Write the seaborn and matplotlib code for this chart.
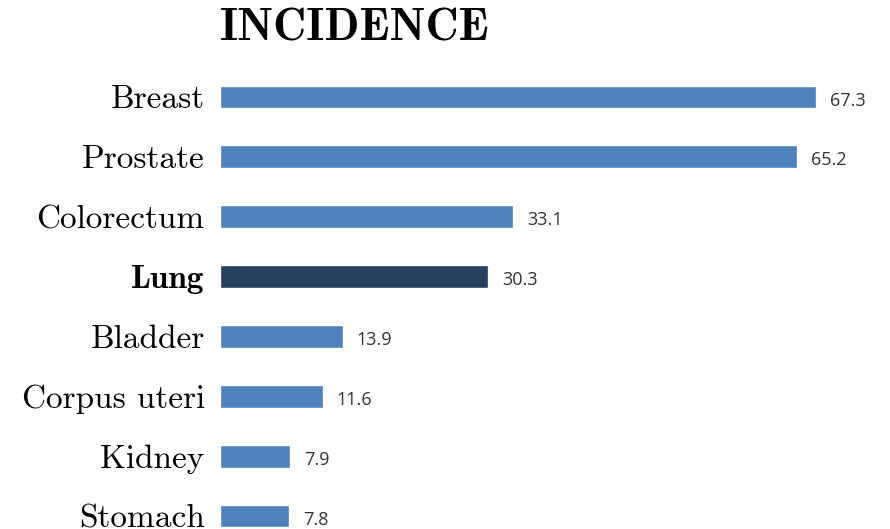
import matplotlib
matplotlib.use("Agg")
import matplotlib.pyplot as plt
import seaborn as sns
import pandas as pd

categories = ["Breast", "Prostate", "Colorectum", "Lung", "Bladder", "Corpus uteri", "Kidney", "Stomach"]
values = [67.3, 65.2, 33.1, 30.3, 13.9, 11.6, 7.9, 7.8]
highlight = "Lung"
title = "INCIDENCE"

sns.set_style("white")
plt.rcParams["axes.formatter.use_mathtext"] = True

df = pd.DataFrame({"cat": categories, "val": values})
palette = {c: ("#243F60" if c == highlight else "#4F81BD") for c in categories}

fig = plt.figure(figsize=(8.9, 5.29), dpi=100)
ax = fig.add_axes([220 / 890, 0.0, 1 - 220 / 890, 1 - 67 / 529])
sns.barplot(data=df, x="val", y="cat", hue="cat", palette=palette, order=categories,
            width=0.38, legend=False, ax=ax, saturation=1)
ax.set_xlim(0, 75.65)
ax.set_ylim(7.217, -0.5)
ax.set_xlabel("")
ax.set_ylabel("")
ax.set_xticks([])
for s in ax.spines.values():
    s.set_visible(False)
ax.tick_params(axis="y", length=0, pad=11)
ax.set_yticks(range(len(categories)))
ax.set_yticklabels(categories)
for lbl in ax.get_yticklabels():
    if lbl.get_text() == highlight:
        lbl.set_fontfamily("cmb10")
    else:
        lbl.set_fontfamily("cmr10")
    lbl.set_fontsize(24)
    lbl.set_color("black")

for i, v in enumerate(values):
    ax.text(v + 1.55, i + 0.06, f"{v:.1f}", va="center", ha="left",
            fontsize=13, family="Open Sans", color="#333333")

fig.text(220 / 890, 1 - 29 / 529, title, family="cmb10", fontsize=33,
         ha="left", va="center", color="black")

fig.savefig("out.png", dpi=100)
